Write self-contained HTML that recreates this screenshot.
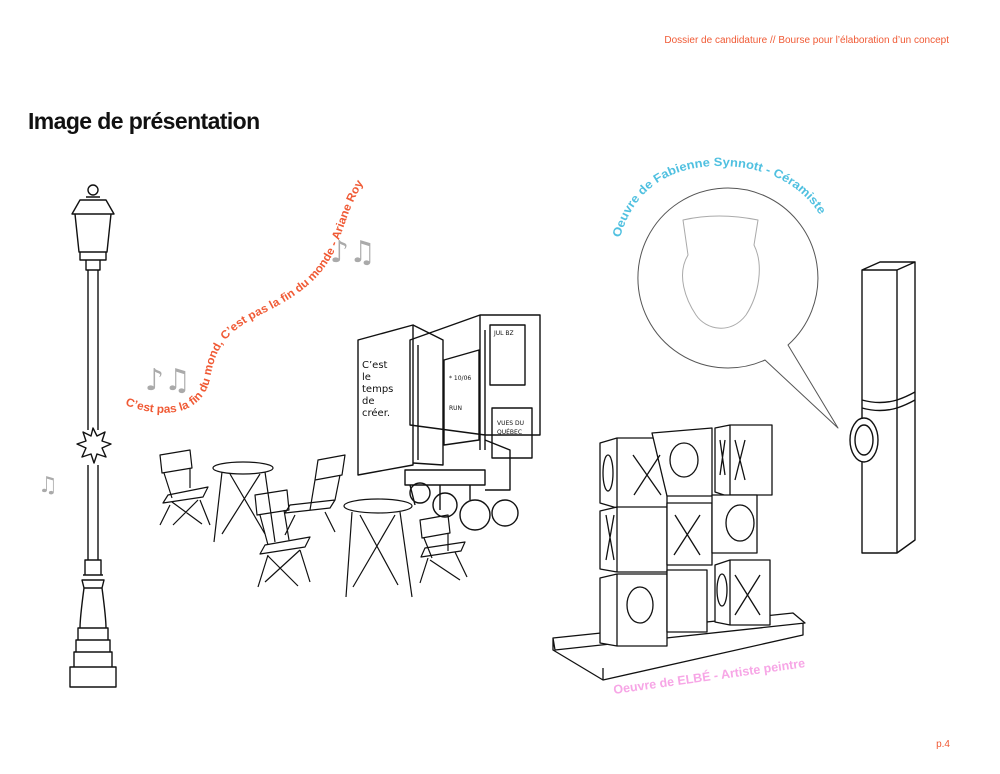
<!DOCTYPE html>
<html><head><meta charset="utf-8"><style>
html,body{margin:0;padding:0;background:#fff;}
body{width:1000px;height:774px;position:relative;overflow:hidden;font-family:"Liberation Sans",sans-serif;}
.hd{position:absolute;right:51px;top:35px;font-size:10px;color:#f05a35;}
.tt{position:absolute;left:28px;top:108px;font-size:23px;font-weight:bold;color:#111;letter-spacing:-0.6px;}
.pg{position:absolute;right:50px;top:739px;font-size:10px;color:#f05a35;}
svg{position:absolute;left:0;top:0;}
</style></head><body>
<div class="hd">Dossier de candidature // Bourse pour l’élaboration d’un concept</div>
<div class="tt">Image de présentation</div>
<div class="pg">p.4</div>
<svg width="1000" height="774" viewBox="0 0 1000 774" fill="none" stroke="#111" stroke-width="1.4" stroke-linejoin="round">
<defs>
<path id="wave" d="M125,405 C160,418 200,418 210,380 C215,345 230,330 260,315 C300,295 320,280 335,250 C345,225 350,205 362,185"/>
<path id="arc" d="M620,238 C636,182 678,166 720,166 C770,166 808,188 826,226"/>
</defs>
<text font-family="Liberation Sans,sans-serif" font-weight="bold" font-size="11.5" fill="#f05a35" stroke="none"><textPath href="#wave" textLength="362" lengthAdjust="spacingAndGlyphs">C’est pas la fin du mond, C’est pas la fin du monde - Ariane Roy</textPath></text>
<text font-family="Liberation Sans,sans-serif" font-weight="bold" font-size="12" fill="#4fc0e0" stroke="none"><textPath href="#arc" textLength="250" lengthAdjust="spacingAndGlyphs">Oeuvre de Fabienne Synnott - Céramiste</textPath></text>
<text x="614" y="694" transform="rotate(-8 614 694)" font-family="Liberation Sans,sans-serif" font-weight="bold" font-size="12.5" fill="#f7a6e6" stroke="none">Oeuvre de  ELBÉ - Artiste peintre</text>
<g fill="#aaa" stroke="none" font-size="30" font-family="DejaVu Sans,sans-serif">
<text x="330" y="262">♪♫</text><text x="145" y="390">♪♫</text><text x="38" y="492" font-size="22">♫</text>
</g>
<circle cx="93" cy="190" r="5"/>
<path d="M86,197 h14 M80,200 h26 l8,14 h-42z M72,214 h42 M75,214 l4,38 h28 l4,-38 M80,252 h26 v8 h-26z M86,260 h14 v10 h-14z"/>
<path d="M88,270 V430 M98,270 V430 M88,465 V560 M98,465 V560"/>
<path d="M93,428 l4,8 8,-4 -3,9 9,3 -9,4 4,9 -9,-3 -3,9 -3,-9 -9,3 4,-9 -9,-4 9,-3 -3,-9 8,4z"/>
<path d="M85,560 h16 v15 h-16z M83,575 h20 M82,580 h22 l-2,8 h-18z M84,588 c-2,15 -4,30 -4,40 h26 c0,-10 -2,-25 -4,-40 M78,628 h30 v12 h-30z M76,640 h34 v12 h-34z M74,652 h38 v15 h-38z M70,667 h46 v20 h-46z"/>
<path d="M788,345 A90,90 0 1 0 765,360 L838,428 Z" stroke="#555" stroke-width="1"/>
<path d="M683,220 q35,-8 75,0 l-4,25 c10,20 5,50 -8,70 c-15,20 -40,15 -50,0 c-10,-15 -20,-40 -8,-60 z" stroke="#aaa" stroke-width="1"/>
<path d="M862,270 l18,-8 h35 l-18,8 z M862,270 h35 v283 h-35z M897,270 l18,-8 v278 l-18,13"/>
<path d="M862,400 q18,5 35,0 q9,-3 18,-8 M862,408 q18,5 35,0 q9,-3 18,-8"/>
<ellipse cx="864" cy="440" rx="14" ry="22" fill="#fff"/><ellipse cx="864" cy="440" rx="9" ry="15"/>
<g stroke-width="1.2">
<path d="M160,455 l30,-5 2,18 -30,5 z M164,473 l8,25 M190,468 v20 M168,495 l40,-8 -5,10 -40,6z M170,505 l-10,20 M200,500 l10,25 M172,502 l30,22 M198,500 l-25,25"/>
<ellipse cx="243" cy="468" rx="30" ry="6"/><path d="M222,472 l-8,70 M265,472 l10,70 M230,474 l35,60 M260,474 l-38,60"/>
<path d="M318,460 l27,-5 -3,20 -27,5z M315,480 l-5,30 M340,475 l-5,25 M290,505 l45,-5 -5,8 -45,5z M295,515 l-10,20 M325,512 l10,20"/>
<path d="M255,495 l32,-5 2,20 -32,5z M260,515 l8,30 M284,510 l5,30 M265,545 l45,-8 -5,10 -45,7z M268,555 l-10,32 M300,550 l10,32 M268,556 l30,30 M300,550 l-35,32"/>
<ellipse cx="378" cy="506" rx="34" ry="7"/><path d="M352,512 l-6,85 M400,512 l12,85 M360,515 l38,70 M395,515 l-42,72"/>
<path d="M420,520 l28,-5 2,18 -28,5z M424,538 l8,20 M448,533 v18 M425,548 l40,-6 -4,9 -40,6z M428,558 l-8,25 M455,552 l12,25 M430,560 l30,20"/>
</g>
<path d="M358,340 l55,-15 v140 l-55,10z" fill="#fff"/>
<path d="M413,325 l30,15 v125 l-30,-2"/>
<path d="M410,340 l70,-25 h60 v120 h-55 l-75,-10z M480,315 v135 M540,315 l-60,0 M418,345 l0,115 M485,330 v120" fill="none"/>
<path d="M444,360 l35,-10 v90 l-35,5z M490,325 h35 v60 h-35z M492,408 h40 v50 h-40z"/>
<path d="M405,470 h80 v15 h-80z M410,485 l5,20 M440,485 v25 M470,485 v15"/>
<circle cx="420" cy="493" r="10"/><circle cx="475" cy="515" r="15"/><circle cx="505" cy="513" r="13"/><circle cx="445" cy="505" r="12"/>
<path d="M485,440 l25,10 v40 l-25,0"/>
<g fill="#111" stroke="none" font-family="DejaVu Sans,sans-serif" font-size="10"><text x="362" y="368">C’est</text><text x="362" y="380">le</text><text x="362" y="392">temps</text><text x="362" y="404">de</text><text x="362" y="416">créer.</text>
<text x="449" y="380" font-size="6">* 10/06</text><text x="449" y="410" font-size="6">RUN</text><text x="497" y="425" font-size="6">VUES DU</text><text x="497" y="434" font-size="6">QUÉBEC</text><text x="494" y="335" font-size="6">JUL BZ</text></g>
<g stroke-width="1.3" fill="#fff">
<path d="M553,638 l240,-25 12,10 -250,27z M553,638 v12 l50,30 200,-45 v-12" />
<path d="M603,680 v-12" />
<path d="M600,443 l17,-5 v70 l-17,-5z M617,438 h50 v70 h-50z"/>
<path d="M652,433 l60,-5 v68 h-45 z"/>
<path d="M715,428 l15,-3 v72 l-15,-5z M730,425 h42 v70 h-42z"/>
<path d="M600,511 l17,-4 v65 l-17,-3z M617,507 h50 v65 h-50z"/>
<path d="M667,503 h45 v62 h-45z"/>
<path d="M712,495 h45 v58 h-45z"/>
<path d="M600,578 l17,-4 v72 l-17,-3z M617,574 h50 v72 h-50z"/>
<path d="M667,570 h40 v62 h-40z"/>
<path d="M715,565 l15,-5 v65 l-15,-3z M730,560 h40 v65 h-40z"/>
</g>
<g stroke-width="1.3">
<path d="M633,455 l28,40 M660,455 l-26,40 M606,515 l8,45 M614,515 l-8,45 M735,440 l10,40 M745,440 l-10,40 M675,515 l25,40 M700,515 l-26,40 M735,575 l25,40 M760,575 l-25,40 M720,440 l5,35 M725,440 l-5,35"/>
<ellipse cx="608" cy="473" rx="5" ry="18"/><ellipse cx="684" cy="460" rx="14" ry="17"/><ellipse cx="740" cy="523" rx="14" ry="18"/><ellipse cx="640" cy="605" rx="13" ry="18"/><ellipse cx="722" cy="590" rx="5" ry="16"/>
</g>
</svg>
</body></html>
